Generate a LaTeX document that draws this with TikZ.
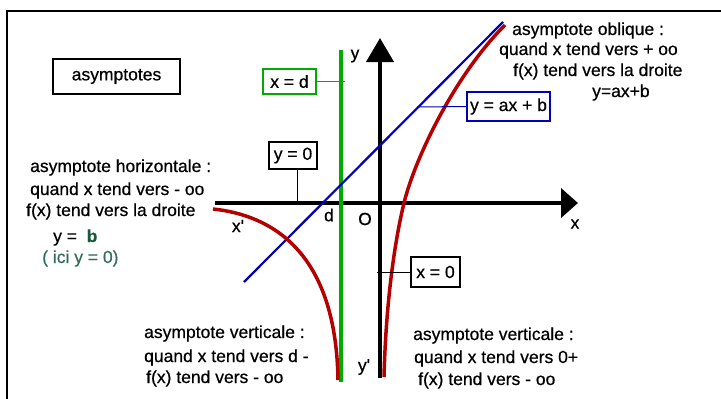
\documentclass[tikz,border=0pt]{standalone}
\usepackage{fontspec}
\setmainfont[FakeBold=0.6]{Liberation Sans}
\usetikzlibrary{arrows.meta}
\definecolor{cgreen}{RGB}{0,170,0}
\definecolor{cblue}{RGB}{0,0,180}
\definecolor{cred}{RGB}{180,0,0}
\definecolor{cdgreen}{RGB}{25,90,60}
\definecolor{cteal}{RGB}{50,110,90}
\tikzset{
  txt/.style={anchor=base west, inner sep=0pt, font=\fontsize{17.5}{21}\selectfont},
  lbl/.style={inner sep=0pt, font=\fontsize{17.5}{21}\selectfont},
  lbox/.style={draw, line width=1.3pt, inner sep=0pt, font=\fontsize{17.5}{21}\selectfont},
  conn/.style={line width=1pt},
  axis/.style={line width=4pt},
  curve/.style={cred, line width=3.5pt}
}
\begin{document}
\begin{tikzpicture}[x=1pt,y=-1pt]
\useasboundingbox (0,0) rectangle (721,399);
% frame
\draw[line width=1.3pt] (7,399) -- (7,11) -- (721,11);
% title box
\node[lbox, minimum width=127pt, minimum height=35pt] (title) at (116.5,76.5) {asymptotes};
% axes
\coordinate (xs) at (215,203);
\coordinate (xe) at (578,203);
\coordinate (ys) at (380,378);
\coordinate (ye) at (380,38);
\draw[axis, -{Triangle[length=17pt,width=29pt]}] (xs) -- (xe);
\draw[axis, -{Triangle[length=24pt,width=27pt]}] (ys) -- (ye);
% green vertical asymptote
\coordinate (gs) at (341,50);
\coordinate (ge) at (341,382);
\draw[cgreen, line width=4pt] (gs) -- (ge);
% blue oblique asymptote
\coordinate (bs) at (244,282);
\coordinate (be) at (503,22);
\draw[cblue, line width=2.2pt] (bs) -- (be);
% red curves
\coordinate (r1) at (384,377);
\coordinate (r2) at (404,203);
\coordinate (r3) at (505,25);
\draw[curve] (r1) .. controls (386,300) and (395,240) .. (r2)
             .. controls (415,158) and (455,75) .. (r3);
\coordinate (l1) at (213,209);
\coordinate (l2) at (338,380);
\draw[curve] (l1) .. controls (270,215) and (336,250) .. (l2);
% label boxes
\node[lbox, draw=cgreen, minimum width=53pt, minimum height=25pt] (xd) at (289.5,81.5) {x = d};
\node[lbox, minimum width=48pt, minimum height=27pt] (y0) at (293,155.5) {y = 0};
\node[lbox, draw=cblue, minimum width=83pt, minimum height=29pt] (yab) at (508.5,106.5) {y = ax + b};
\node[lbox, minimum width=49pt, minimum height=30pt] (x0) at (435.5,272) {x = 0};
\coordinate (cxd) at (345,81.5);
\coordinate (cy0) at (297,203);
\coordinate (cyab) at (417,107);
\coordinate (cx0) at (377,272);
\draw[conn, cgreen] (xd.east) -- (cxd);
\draw[conn] (y0.south -| cy0) -- (cy0);
\draw[conn, cblue] (yab.west) -- (cyab);
\draw[conn] (x0.west) -- (cx0);
% axis labels
\node[lbl] (ly) at (355,56) {y};
\node[lbl] (lx) at (575,224) {x};
\node[lbl] (lxp) at (238,226) {x\textquotesingle};
\node[lbl] (ld) at (329,215) {d};
\node[lbl] (lO) at (365,219) {O};
\node[lbl] (lyp) at (364,367) {y\textquotesingle};
% left text
\node[txt] (h1) at (30,172) {asymptote horizontale :};
\node[txt] (h2) at (30,195) {quand x tend vers - oo};
\node[txt] (h3) at (26,216) {f(x) tend vers la droite};
\node[txt] (h4) at (53,242) {y =\ \ \textcolor{cdgreen}{\textbf{b}}};
\node[txt, text=cteal] (h5) at (42,263) {( ici y = 0)};
% top right text
\node[txt] (o1) at (512,35) {asymptote oblique :};
\node[txt] (o2) at (499,55) {quand x tend vers + oo};
\node[txt] (o3) at (513,76) {f(x) tend vers la droite};
\node[txt] (o4) at (592,97) {y=ax+b};
% bottom left text
\node[txt] (v1) at (144,338) {asymptote verticale :};
\node[txt] (v2) at (144,362) {quand x tend vers d -};
\node[txt] (v3) at (146,383) {f(x) tend vers - oo};
% bottom right text
\node[txt] (w1) at (413,340) {asymptote verticale :};
\node[txt] (w2) at (414,363) {quand x tend vers 0+};
\node[txt] (w3) at (418,385) {f(x) tend vers - oo};
\end{tikzpicture}
\end{document}
